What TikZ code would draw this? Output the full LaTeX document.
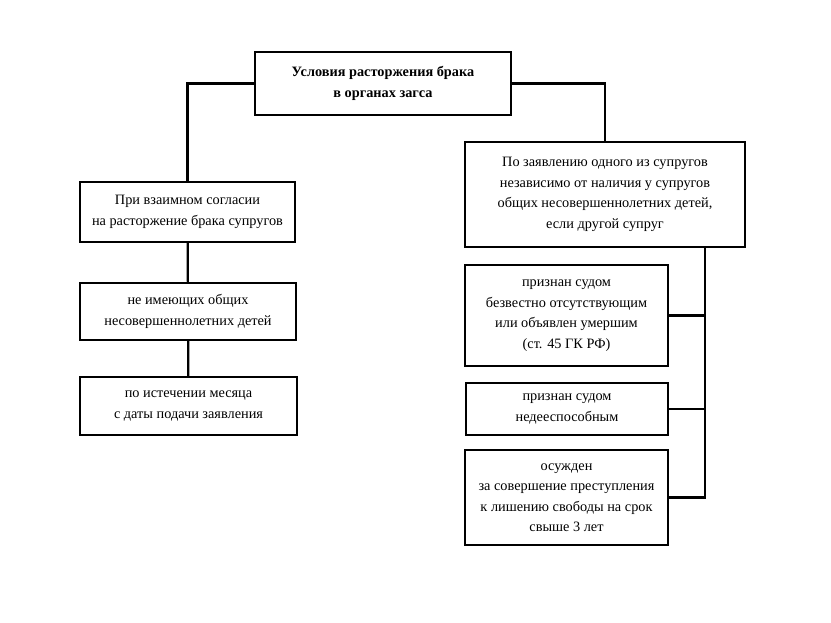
\documentclass[tikz,border=0pt]{standalone}
\usepackage{fontspec}
\setmainfont{Liberation Serif}
\begin{document}
\begin{tikzpicture}[x=1pt,y=-1pt,
  box/.style={draw, line width=2.2pt, align=center, inner sep=0pt,
    font=\fontsize{14.3}{20.5}\selectfont},
  link/.style={line width=2.2pt}]
\useasboundingbox[fill=white] (0,0) rectangle (831,623);
\node[box, minimum width=256pt, minimum height=63pt, font=\bfseries\fontsize{14.3}{20.5}\selectfont] (top) at (383,83.5)
  {Условия расторжения брака\\в органах загса};
\node[box, minimum width=215pt, minimum height=60pt] (L1) at (187.5,212)
  {При взаимном согласии\\на расторжение брака супругов};
\node[box, minimum width=216pt, minimum height=57pt] (L2) at (188,311.5)
  {не имеющих общих\\несовершеннолетних детей};
\node[box, minimum width=217pt, minimum height=58pt] (L3) at (188.5,406)
  {по истечении месяца\\с даты подачи заявления};
\node[box, minimum width=280pt, minimum height=105pt] (R0) at (605,194.5)
  {По заявлению одного из супругов\\независимо от наличия у супругов\\общих несовершеннолетних детей,\\если другой супруг};
\node[box, minimum width=203pt, minimum height=101pt] (R1) at (566.5,315.5)
  {признан судом\\безвестно отсутствующим\\или объявлен умершим\\(ст. 45 ГК РФ)};
\node[box, minimum width=202pt, minimum height=52pt] (R2) at (567,409)
  {признан судом\\недееспособным};
\node[box, minimum width=203pt, minimum height=95pt] (R3) at (566.5,497.5)
  {осужден\\за совершение преступления\\к лишению свободы на срок\\свыше 3 лет};
\coordinate (sp) at (705,0);
\draw[link] (top.west) -| (L1.north);
\draw[link] (top.east) -| (R0.north);
\draw[link] (L1) -- (L2);
\draw[link] (L2) -- (L3);
\draw[link] (R0.south -| sp) |- (R3.east);
\draw[link] (R1.east) -- (R1.east -| sp);
\draw[link] (R2.east) -- (R2.east -| sp);
\end{tikzpicture}
\end{document}
